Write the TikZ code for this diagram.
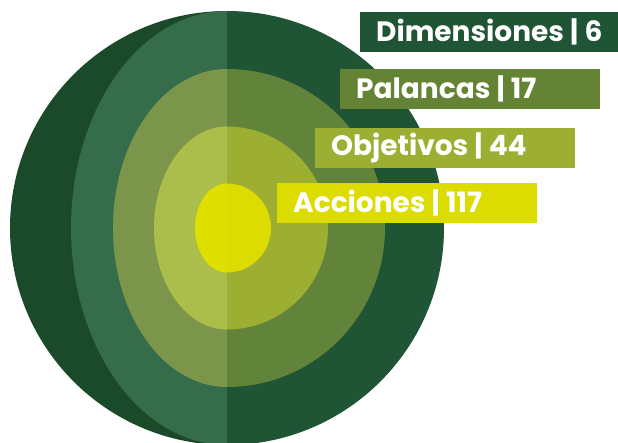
\documentclass[tikz,border=0pt]{standalone}
\usepackage{fontspec}
\setmainfont{Poppins}[UprightFont=* Bold]
\definecolor{outL}{HTML}{1B4A2A}
\definecolor{outR}{HTML}{1F5434}
\definecolor{twoL}{HTML}{356C4A}
\definecolor{thrL}{HTML}{7B964A}
\definecolor{thrR}{HTML}{62833A}
\definecolor{fouL}{HTML}{ABBD4A}
\definecolor{fouR}{HTML}{9CAF33}
\definecolor{fivL}{HTML}{E0E000}
\definecolor{fivR}{HTML}{DCDC00}
\definecolor{boxA}{HTML}{1F5434}
\definecolor{boxB}{HTML}{658335}
\definecolor{boxC}{HTML}{9CAF33}
\definecolor{boxD}{HTML}{DCDC00}
\newcommand{\sepbar}{\mbox{\hspace{0.22em}|\hspace{0.22em}}}
\begin{document}
\begin{tikzpicture}[x=1pt,y=1pt,
  labbox/.style={anchor=north west, minimum width=260pt, minimum height=40pt,
    inner xsep=16pt, inner ysep=0pt, text width=228pt, align=left,
    text=white, font=\fontsize{28}{30}\selectfont}]
\useasboundingbox (0,0) rectangle (618,442);
\begin{scope}
\clip (0,0) rectangle (618,442);
\coordinate (c) at (227,214);
% outer
\fill[outL] (227,431) arc[start angle=90,end angle=270,x radius=217,y radius=217] -- cycle;
\fill[outR] (227,431) arc[start angle=90,end angle=-90,x radius=217,y radius=217] -- cycle;
% ring 2
\fill[twoL] (227,431) arc[start angle=90,end angle=270,x radius=156,y radius=217] -- cycle;
% ring 3
\fill[thrL] (227,373) arc[start angle=90,end angle=270,x radius=114,y radius=159] -- cycle;
\fill[thrR] (227,373) arc[start angle=90,end angle=-90,x radius=158,y radius=159] -- cycle;
% ring 4
\fill[fouL] (227,315.5) arc[start angle=90,end angle=270,x radius=73,y radius=101.5] -- cycle;
\fill[fouR] (227,315.5) arc[start angle=90,end angle=-90,x radius=101,y radius=101.5] -- cycle;
% ring 5
\fill[fivL] (227,258.5) arc[start angle=90,end angle=270,x radius=32,y radius=44.5] -- cycle;
\fill[fivR] (227,258.5) arc[start angle=90,end angle=-90,x radius=44,y radius=44.5] -- cycle;
\end{scope}
\node[labbox, fill=boxA] (dim) at (360,430) {\mbox{Dimensiones\sepbar 6}};
\node[labbox, fill=boxB] (pal) at (340,373) {\mbox{Palancas\sepbar 17}};
\node[labbox, fill=boxC] (obj) at (315,314) {\mbox{Objetivos\sepbar 44}};
\node[labbox, fill=boxD] (acc) at (277,259) {\mbox{Acciones\sepbar 117}};
\end{tikzpicture}
\end{document}
